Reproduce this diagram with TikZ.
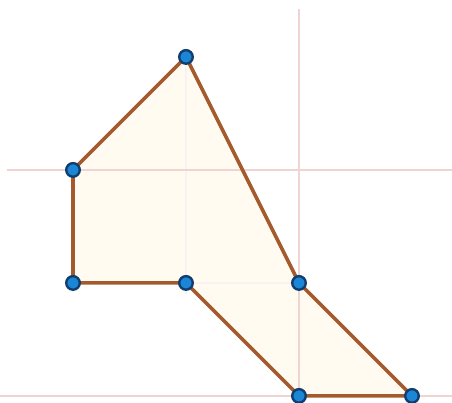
\documentclass[tikz,border=0pt]{standalone}
\usepackage{tikz}
\usetikzlibrary{positioning}
\definecolor{edgebrown}{RGB}{165,90,45}
\definecolor{shapefill}{RGB}{255,251,241}
\definecolor{dotblue}{RGB}{28,134,214}
\definecolor{dotrim}{RGB}{16,62,110}
\definecolor{gridpink}{RGB}{240,212,212}
\tikzset{
  gridline/.style={draw=gridpink, line width=0.45pt},
  faintline/.style={draw=gridpink!30, line width=0.4pt},
  sideline/.style={draw=edgebrown, line width=0.9pt},
  vertex/.style={circle, draw=dotrim, line width=0.6pt, fill=dotblue, inner sep=0pt, minimum size=0.12cm}
}
\begin{document}
\begin{tikzpicture}
  \useasboundingbox (-0.646,-0.062) rectangle (3.354,3.504);
  % corners of the figure
  \coordinate (top) at (1,3);
  \coordinate (lu) at (0,2);
  \coordinate (ll) at (0,1);
  \coordinate (mid) at (1,1);
  \coordinate (bl) at (2,0);
  \coordinate (br) at (3,0);
  \coordinate (rk) at (2,1);
  \fill[shapefill] (top) -- (lu) -- (ll) -- (mid) -- (bl) -- (br) -- (rk) -- cycle;
  % grid
  \draw[faintline] (1,0.9) -- (1,3);
  \draw[faintline] (0,1) -- (2,1);
  \draw[gridline] (-0.58,2) -- (3.354,2);
  \draw[gridline] (-0.646,0) -- (3.354,0);
  \draw[gridline] (2,3.42) -- (2,-0.062);
  % sides
  \draw[sideline] (top) -- (lu) -- (ll) -- (mid) -- (bl) -- (br) -- (rk) -- cycle;
  \foreach \p in {top,lu,ll,mid,bl,br,rk}
    \node[vertex] (v-\p) at (\p) {};
\end{tikzpicture}
\end{document}
